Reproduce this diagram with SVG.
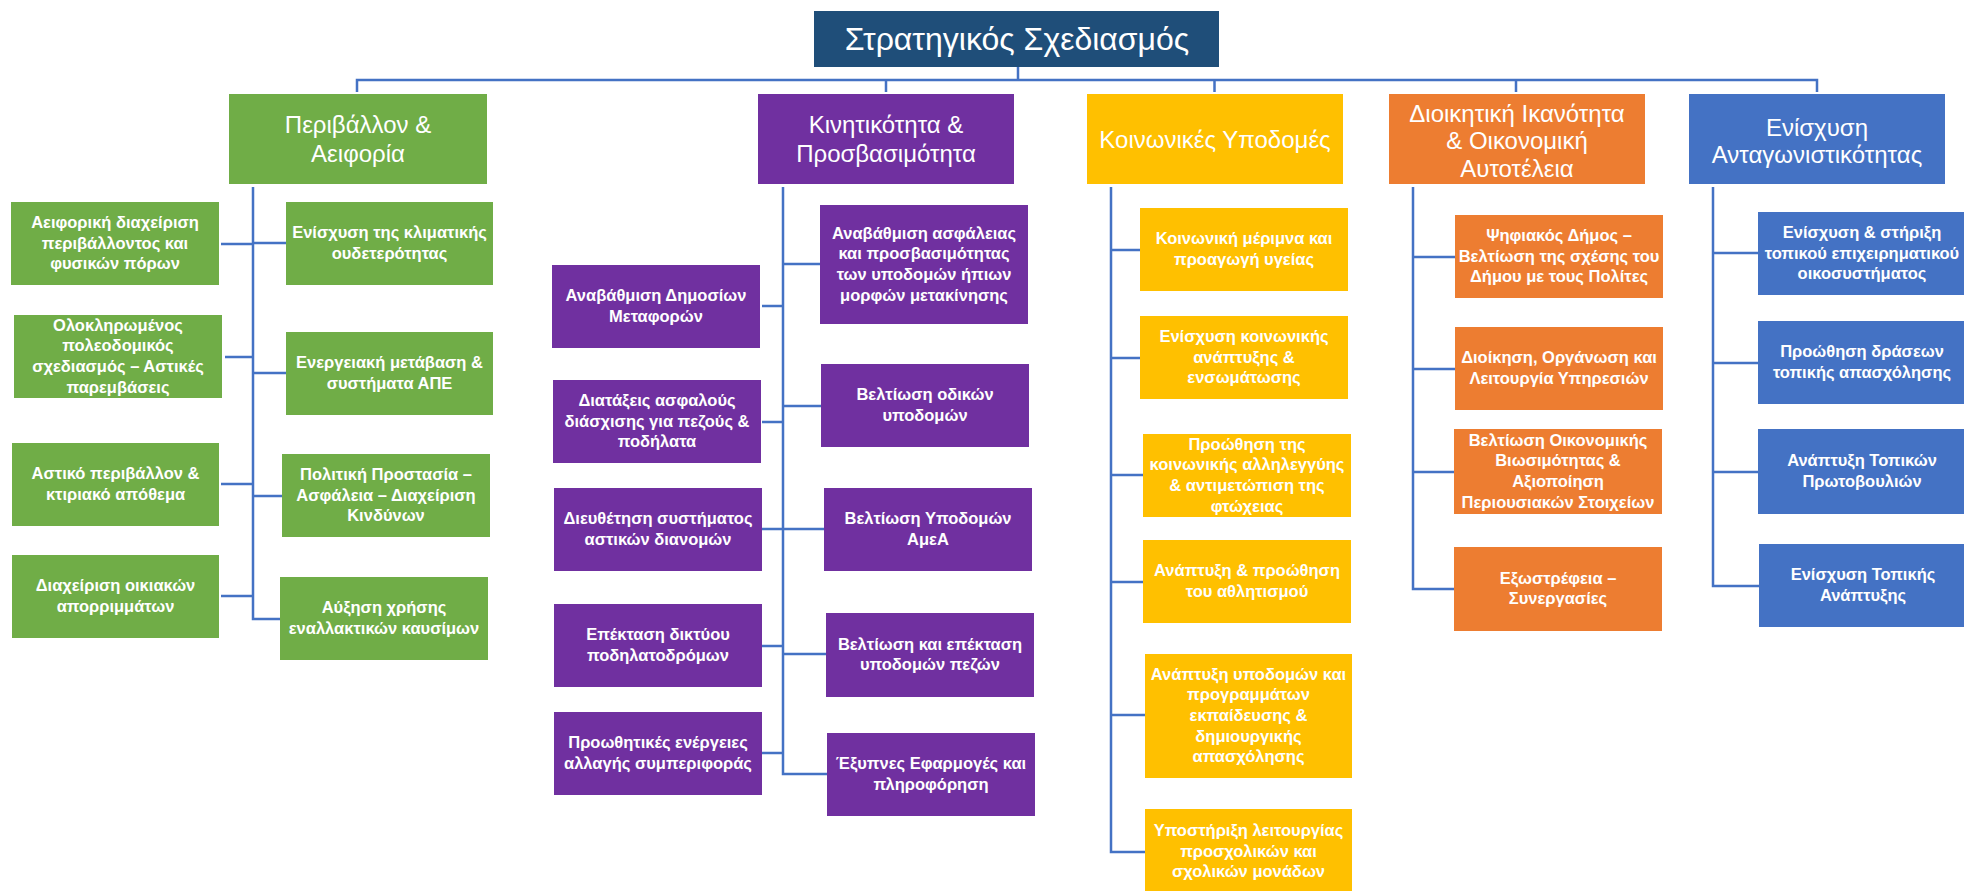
<svg xmlns="http://www.w3.org/2000/svg" width="1964" height="891" viewBox="0 0 1964 891">
<style>
.c{fill:none;stroke:#4472C4;stroke-width:2.5}
.t0{font-family:"Liberation Sans",Arial,sans-serif;font-size:32px;fill:#fff;text-anchor:middle}
.t1{font-family:"Liberation Sans",Arial,sans-serif;font-size:24px;fill:#fff;text-anchor:middle}
.t2{font-family:"Liberation Sans",Arial,sans-serif;font-size:16.5px;font-weight:bold;fill:#fff;text-anchor:middle}
.g{fill:#70AD47}.p{fill:#7030A0}.y{fill:#FFC000}.o{fill:#ED7D31}.b{fill:#4472C4}.r{fill:#1F4E79}
</style>
<rect width="1964" height="891" fill="#fff"/>
<g id="connectors">
<path class="c" d="M1018 67V80M357 92V80H1817V92M886 80V92M1214.5 80V92M1516 80V92"/>
<path class="c" d="M253 187V619H280M221 244H253M225 357H253M221 484H253M221 596H253M253 243H286M253 373H286M253 496H282"/>
<path class="c" d="M783 187V774H827M762 306H783M762 422H783M762 529H783M762 646H783M762 753H783M783 264H820M783 406H821M783 529H824M783 654H826"/>
<path class="c" d="M1111 187V852H1145M1111 250H1140M1111 358H1140M1111 475H1143M1111 582H1143M1111 715H1145"/>
<path class="c" d="M1413 187V589H1454M1413 257H1455M1413 369H1455M1413 472H1454"/>
<path class="c" d="M1713 187V586H1759M1713 253H1758M1713 363H1758M1713 472H1758"/>
</g>
<g id="root"><rect class="r" x="814" y="11" width="405" height="56"/><text class="t0" x="1017" y="50">Στρατηγικός Σχεδιασμός</text></g>
<g id="env"><rect class="g" x="229" y="94" width="258" height="90"/><text class="t1" x="358" y="133">Περιβάλλον &amp;<tspan x="358" dy="29">Αειφορία</tspan></text></g>
<g id="mob"><rect class="p" x="758" y="94" width="256" height="90"/><text class="t1" x="886" y="133">Κινητικότητα &amp;<tspan x="886" dy="29">Προσβασιμότητα</tspan></text></g>
<g id="soc"><rect class="y" x="1087" y="94" width="256" height="90"/><text class="t1" x="1215" y="147.5">Κοινωνικές Υποδομές</text></g>
<g id="adm"><rect class="o" x="1389" y="94" width="256" height="90"/><text class="t1" x="1517" y="121.5">Διοικητική Ικανότητα<tspan x="1517" dy="27.5">&amp; Οικονομική</tspan><tspan x="1517" dy="27.5">Αυτοτέλεια</tspan></text></g>
<g id="comp"><rect class="b" x="1689" y="94" width="256" height="90"/><text class="t1" x="1817" y="135.5">Ενίσχυση<tspan x="1817" dy="27">Ανταγωνιστικότητας</tspan></text></g>

<g id="g-l1"><rect class="g" x="11" y="202" width="208" height="83"/><text class="t2" x="115" y="227.8">Αειφορική διαχείριση<tspan x="115" dy="20.7">περιβάλλοντος και</tspan><tspan x="115" dy="20.7">φυσικών πόρων</tspan></text></g>
<g id="g-l2"><rect class="g" x="14" y="315" width="208" height="83"/><text class="t2" x="118" y="330.5">Ολοκληρωμένος<tspan x="118" dy="20.7">πολεοδομικός</tspan><tspan x="118" dy="20.7">σχεδιασμός – Αστικές</tspan><tspan x="118" dy="20.7">παρεμβάσεις</tspan></text></g>
<g id="g-l3"><rect class="g" x="12" y="443" width="207" height="83"/><text class="t2" x="115.5" y="479.2">Αστικό περιβάλλον &amp;<tspan x="115.5" dy="20.7">κτιριακό απόθεμα</tspan></text></g>
<g id="g-l4"><rect class="g" x="12" y="555" width="207" height="83"/><text class="t2" x="115.5" y="591.2">Διαχείριση οικιακών<tspan x="115.5" dy="20.7">απορριμμάτων</tspan></text></g>
<g id="g-r1"><rect class="g" x="286" y="202" width="207" height="83"/><text class="t2" x="389.5" y="238.2">Ενίσχυση της κλιματικής<tspan x="389.5" dy="20.7">ουδετερότητας</tspan></text></g>
<g id="g-r2"><rect class="g" x="286" y="332" width="207" height="83"/><text class="t2" x="389.5" y="368.2">Ενεργειακή μετάβαση &amp;<tspan x="389.5" dy="20.7">συστήματα ΑΠΕ</tspan></text></g>
<g id="g-r3"><rect class="g" x="282" y="454" width="208" height="83"/><text class="t2" x="386" y="479.8">Πολιτική Προστασία –<tspan x="386" dy="20.7">Ασφάλεια – Διαχείριση</tspan><tspan x="386" dy="20.7">Κινδύνων</tspan></text></g>
<g id="g-r4"><rect class="g" x="280" y="577" width="208" height="83"/><text class="t2" x="384" y="613.2">Αύξηση χρήσης<tspan x="384" dy="20.7">εναλλακτικών καυσίμων</tspan></text></g>

<g id="p-l1"><rect class="p" x="552" y="265" width="208" height="83"/><text class="t2" x="656" y="301.2">Αναβάθμιση Δημοσίων<tspan x="656" dy="20.7">Μεταφορών</tspan></text></g>
<g id="p-l2"><rect class="p" x="553" y="380" width="208" height="83"/><text class="t2" x="657" y="405.8">Διατάξεις ασφαλούς<tspan x="657" dy="20.7">διάσχισης για πεζούς &amp;</tspan><tspan x="657" dy="20.7">ποδήλατα</tspan></text></g>
<g id="p-l3"><rect class="p" x="554" y="488" width="208" height="83"/><text class="t2" x="658" y="524.2">Διευθέτηση συστήματος<tspan x="658" dy="20.7">αστικών διανομών</tspan></text></g>
<g id="p-l4"><rect class="p" x="554" y="604" width="208" height="83"/><text class="t2" x="658" y="640.2">Επέκταση δικτύου<tspan x="658" dy="20.7">ποδηλατοδρόμων</tspan></text></g>
<g id="p-l5"><rect class="p" x="554" y="712" width="208" height="83"/><text class="t2" x="658" y="748.2">Προωθητικές ενέργειες<tspan x="658" dy="20.7">αλλαγής συμπεριφοράς</tspan></text></g>
<g id="p-r1"><rect class="p" x="820" y="205" width="208" height="119"/><text class="t2" x="924" y="238.5">Αναβάθμιση ασφάλειας<tspan x="924" dy="20.7">και προσβασιμότητας</tspan><tspan x="924" dy="20.7">των υποδομών ήπιων</tspan><tspan x="924" dy="20.7">μορφών μετακίνησης</tspan></text></g>
<g id="p-r2"><rect class="p" x="821" y="364" width="208" height="83"/><text class="t2" x="925" y="400.2">Βελτίωση οδικών<tspan x="925" dy="20.7">υποδομών</tspan></text></g>
<g id="p-r3"><rect class="p" x="824" y="488" width="208" height="83"/><text class="t2" x="928" y="524.2">Βελτίωση Υποδομών<tspan x="928" dy="20.7">ΑμεΑ</tspan></text></g>
<g id="p-r4"><rect class="p" x="826" y="613" width="208" height="84"/><text class="t2" x="930" y="649.7">Βελτίωση και επέκταση<tspan x="930" dy="20.7">υποδομών πεζών</tspan></text></g>
<g id="p-r5"><rect class="p" x="827" y="733" width="208" height="83"/><text class="t2" x="931" y="769.2">Έξυπνες Εφαρμογές και<tspan x="931" dy="20.7">πληροφόρηση</tspan></text></g>

<g id="y-1"><rect class="y" x="1140" y="208" width="208" height="83"/><text class="t2" x="1244" y="244.2">Κοινωνική μέριμνα και<tspan x="1244" dy="20.7">προαγωγή υγείας</tspan></text></g>
<g id="y-2"><rect class="y" x="1140" y="316" width="208" height="83"/><text class="t2" x="1244" y="341.8">Ενίσχυση κοινωνικής<tspan x="1244" dy="20.7">ανάπτυξης &amp;</tspan><tspan x="1244" dy="20.7">ενσωμάτωσης</tspan></text></g>
<g id="y-3"><rect class="y" x="1143" y="434" width="208" height="83"/><text class="t2" x="1247" y="449.5">Προώθηση της<tspan x="1247" dy="20.7">κοινωνικής αλληλεγγύης</tspan><tspan x="1247" dy="20.7">&amp; αντιμετώπιση της</tspan><tspan x="1247" dy="20.7">φτώχειας</tspan></text></g>
<g id="y-4"><rect class="y" x="1143" y="540" width="208" height="83"/><text class="t2" x="1247" y="576.2">Ανάπτυξη &amp; προώθηση<tspan x="1247" dy="20.7">του αθλητισμού</tspan></text></g>
<g id="y-5"><rect class="y" x="1145" y="654" width="207" height="124"/><text class="t2" x="1248.5" y="679.6">Ανάπτυξη υποδομών και<tspan x="1248.5" dy="20.7">προγραμμάτων</tspan><tspan x="1248.5" dy="20.7">εκπαίδευσης &amp;</tspan><tspan x="1248.5" dy="20.7">δημιουργικής</tspan><tspan x="1248.5" dy="20.7">απασχόλησης</tspan></text></g>
<g id="y-6"><rect class="y" x="1145" y="809" width="207" height="85"/><text class="t2" x="1248.5" y="836">Υποστήριξη λειτουργίας<tspan x="1248.5" dy="20.7">προσχολικών και</tspan><tspan x="1248.5" dy="20.7">σχολικών μονάδων</tspan></text></g>

<g id="o-1"><rect class="o" x="1455" y="215" width="208" height="83"/><text class="t2" x="1559" y="240.8">Ψηφιακός Δήμος –<tspan x="1559" dy="20.7">Βελτίωση της σχέσης του</tspan><tspan x="1559" dy="20.7">Δήμου με τους Πολίτες</tspan></text></g>
<g id="o-2"><rect class="o" x="1455" y="327" width="208" height="83"/><text class="t2" x="1559" y="363.2">Διοίκηση, Οργάνωση και<tspan x="1559" dy="20.7">Λειτουργία Υπηρεσιών</tspan></text></g>
<g id="o-3"><rect class="o" x="1454" y="429" width="208" height="85"/><text class="t2" x="1558" y="445.5">Βελτίωση Οικονομικής<tspan x="1558" dy="20.7">Βιωσιμότητας &amp;</tspan><tspan x="1558" dy="20.7">Αξιοποίηση</tspan><tspan x="1558" dy="20.7">Περιουσιακών Στοιχείων</tspan></text></g>
<g id="o-4"><rect class="o" x="1454" y="547" width="208" height="84"/><text class="t2" x="1558" y="583.7">Εξωστρέφεια –<tspan x="1558" dy="20.7">Συνεργασίες</tspan></text></g>

<g id="b-1"><rect class="b" x="1758" y="212" width="208" height="83"/><text class="t2" x="1862" y="237.8">Ενίσχυση &amp; στήριξη<tspan x="1862" dy="20.7">τοπικού επιχειρηματικού</tspan><tspan x="1862" dy="20.7">οικοσυστήματος</tspan></text></g>
<g id="b-2"><rect class="b" x="1758" y="321" width="208" height="83"/><text class="t2" x="1862" y="357.2">Προώθηση δράσεων<tspan x="1862" dy="20.7">τοπικής απασχόλησης</tspan></text></g>
<g id="b-3"><rect class="b" x="1758" y="429" width="208" height="85"/><text class="t2" x="1862" y="466.2">Ανάπτυξη Τοπικών<tspan x="1862" dy="20.7">Πρωτοβουλιών</tspan></text></g>
<g id="b-4"><rect class="b" x="1759" y="544" width="208" height="83"/><text class="t2" x="1863" y="580.2">Ενίσχυση Τοπικής<tspan x="1863" dy="20.7">Ανάπτυξης</tspan></text></g>
</svg>
